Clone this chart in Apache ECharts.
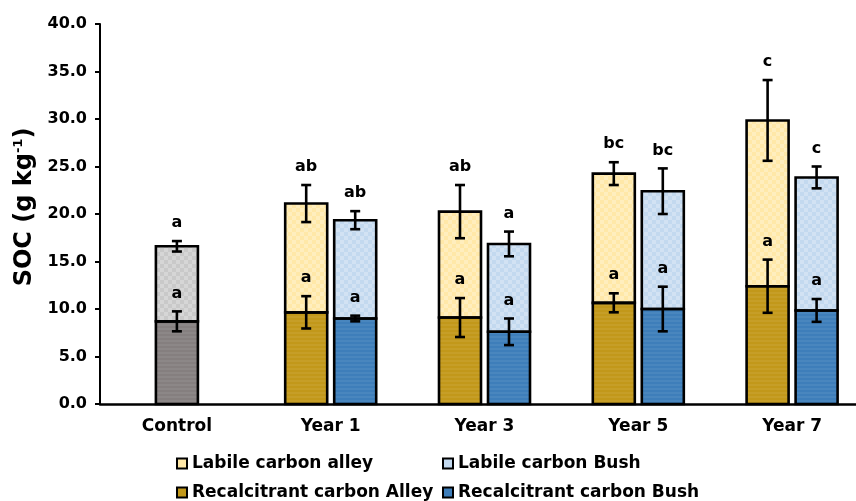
<!DOCTYPE html>
<html>
<head>
<meta charset="utf-8">
<script src="https://cdn.jsdelivr.net/npm/echarts@6/dist/echarts.min.js"></script>
<style>html,body{margin:0;padding:0;background:#fff}#c{width:856px;height:501px}</style>
</head>
<body>
<div id="c"></div>
<script>
// ---- data ----
var categories = ['Control', 'Year 1', 'Year 3', 'Year 5', 'Year 7'];
var yTicks = [0, 5, 10, 15, 20, 25, 30, 35, 40];

var controlRecalc = [8.7, null, null, null, null];
var controlLabile = [7.9, null, null, null, null];
var controlRecalcErr = [1.05, null, null, null, null];
var controlTotalErr = [0.55, null, null, null, null];
var controlTopLetters = ['a', '', '', '', ''];
var controlInnerLetters = ['a', '', '', '', ''];

var recalcAlley = [null, 9.65, 9.1, 10.65, 12.4];
var labileAlley = [null, 11.45, 11.15, 13.6, 17.45];
var recalcAlleyErr = [null, 1.7, 2.05, 1.0, 2.8];
var totalAlleyErr = [null, 1.95, 2.8, 1.2, 4.25];
var alleyTopLetters = ['', 'ab', 'ab', 'bc', 'c'];
var alleyInnerLetters = ['', 'a', 'a', 'a', 'a'];

var recalcBush = [null, 9.0, 7.6, 10.0, 9.85];
var labileBush = [null, 10.35, 9.25, 12.4, 14.0];
var recalcBushErr = [null, 0.3, 1.4, 2.35, 1.2];
var totalBushErr = [null, 0.95, 1.3, 2.4, 1.15];
var bushTopLetters = ['', 'ab', 'a', 'bc', 'c'];
var bushInnerLetters = ['', 'a', 'a', 'a', 'a'];

// ---- style ----
var FONT = 'DejaVu Sans';
var BAR_W = 42, BAR_GAP_PX = 7;
var OFF = (BAR_W + BAR_GAP_PX) / 2;
var LINE_W = 2.6;

var lightDecal = {symbol: 'rect', symbolSize: 1, color: 'rgba(255,255,255,0.25)',
  dashArrayX: [[4, 4], [0, 4, 4, 0]], dashArrayY: [4, 0]};
var darkDecal = {symbol: 'rect', symbolSize: 1, color: 'rgba(255,255,255,0.06)',
  dashArrayX: [1, 0], dashArrayY: [2, 2]};

function barStyle(color, decal) {
  return {color: color, borderWidth: 0, decal: decal};
}

// outline of each bar segment + error bar + significance letter
function errSeries(xAxisIndex, offset, base, seg, err, letters) {
  var data = [];
  for (var i = 0; i < categories.length; i++) {
    if (seg[i] == null) continue;
    var b = base ? base[i] : 0;
    data.push([i, b + seg[i], err[i], b, letters[i]]);
  }
  return {
    type: 'custom', xAxisIndex: xAxisIndex, yAxisIndex: 0, z: 10, silent: true,
    data: data,
    encode: {x: 0, y: 1},
    renderItem: function (params, api) {
      var idx = api.value(0), c = api.value(1), e = api.value(2), b = api.value(3);
      var letter = data[params.dataIndex][4];
      var x = api.coord([idx, c])[0] + offset;
      var yc = api.coord([idx, c])[1];
      var y0 = api.coord([idx, b])[1];
      var yt = api.coord([idx, c + e])[1];
      var yb = api.coord([idx, c - e])[1];
      var st = {stroke: '#000', lineWidth: LINE_W};
      var cap = 5;
      return {type: 'group', children: [
        {type: 'rect', shape: {x: x - BAR_W / 2, y: yc, width: BAR_W, height: y0 - yc},
          style: {fill: null, stroke: '#000', lineWidth: LINE_W}},
        {type: 'line', shape: {x1: x, y1: yt, x2: x, y2: yb}, style: st},
        {type: 'line', shape: {x1: x - cap, y1: yt, x2: x + cap, y2: yt}, style: st},
        {type: 'line', shape: {x1: x - cap, y1: yb, x2: x + cap, y2: yb}, style: st},
        {type: 'text', x: x, y: yt - 18, style: {text: letter, fill: '#000',
          font: 'bold 16px "' + FONT + '"', align: 'center', verticalAlign: 'middle'}}
      ]};
    }
  };
}

var legendText = {fontFamily: FONT, fontWeight: 'bold', fontSize: 17, color: '#000'};
function legend(name, left, top) {
  return {data: [name], left: left, top: top, padding: 0, itemWidth: 10, itemHeight: 10,
    icon: 'rect', itemStyle: {borderColor: '#000', borderWidth: 2, decal: 'none'},
    textStyle: legendText, selectedMode: false};
}

var option = {
  animation: false,
  backgroundColor: '#fff',
  grid: {left: 100, width: 769, top: 24, bottom: 97, containLabel: false, outerBoundsMode: 'none'},
  legend: [
    legend('Labile carbon alley', 176, 455),
    legend('Labile carbon Bush', 442, 455),
    legend('Recalcitrant carbon Alley', 176, 484),
    legend('Recalcitrant carbon Bush', 442, 484)
  ],
  xAxis: [
    {type: 'category', data: categories, axisTick: {show: false},
      axisLine: {lineStyle: {color: '#000', width: 2.5}},
      axisLabel: {margin: 14, color: '#000', fontFamily: FONT, fontWeight: 'bold', fontSize: 17}},
    {type: 'category', data: categories, show: false}
  ],
  yAxis: [{
    type: 'value', min: yTicks[0], max: yTicks[yTicks.length - 1], interval: 5,
    splitLine: {show: false},
    axisLine: {show: true, lineStyle: {color: '#000', width: 2}},
    axisTick: {show: true, length: 5, lineStyle: {color: '#000', width: 2}},
    axisLabel: {margin: 13, color: '#000', fontFamily: FONT, fontWeight: 'bold', fontSize: 16,
      formatter: function (v) { return v.toFixed(1); }},
    name: 'SOC (g kg{sup|-1})', nameLocation: 'middle', nameGap: 63, nameRotate: 90,
    nameTextStyle: {color: '#000', fontFamily: FONT, fontWeight: 'bold', fontSize: 24,
      padding: [0, 0, 0, 14],
      rich: {sup: {fontFamily: FONT, fontWeight: 'bold', fontSize: 13, verticalAlign: 'top', padding: [0, 0, 10, 0], color: '#000'}}}
  }],
  series: [
    {name: 'Recalcitrant carbon Alley', type: 'bar', stack: 'alley', xAxisIndex: 0, barWidth: BAR_W,
      barGap: (BAR_GAP_PX / BAR_W * 100) + '%', data: recalcAlley, itemStyle: barStyle('#C2981A', darkDecal)},
    {name: 'Labile carbon alley', type: 'bar', stack: 'alley', xAxisIndex: 0, barWidth: BAR_W,
      data: labileAlley, itemStyle: barStyle('#FFE8A8', lightDecal)},
    {name: 'Recalcitrant carbon Bush', type: 'bar', stack: 'bush', xAxisIndex: 0, barWidth: BAR_W,
      data: recalcBush, itemStyle: barStyle('#3E7EBA', darkDecal)},
    {name: 'Labile carbon Bush', type: 'bar', stack: 'bush', xAxisIndex: 0, barWidth: BAR_W,
      data: labileBush, itemStyle: barStyle('#C3D9EF', lightDecal)},
    {name: 'Control recalcitrant', type: 'bar', stack: 'ctrl', xAxisIndex: 1, barWidth: BAR_W,
      data: controlRecalc, itemStyle: barStyle('#857F7F', darkDecal)},
    {name: 'Control labile', type: 'bar', stack: 'ctrl', xAxisIndex: 1, barWidth: BAR_W,
      data: controlLabile, itemStyle: barStyle('#C9C9C9', lightDecal)},
    errSeries(1, 0, null, controlRecalc, controlRecalcErr, controlInnerLetters),
    errSeries(1, 0, controlRecalc, controlLabile, controlTotalErr, controlTopLetters),
    errSeries(0, -OFF, null, recalcAlley, recalcAlleyErr, alleyInnerLetters),
    errSeries(0, -OFF, recalcAlley, labileAlley, totalAlleyErr, alleyTopLetters),
    errSeries(0, OFF, null, recalcBush, recalcBushErr, bushInnerLetters),
    errSeries(0, OFF, recalcBush, labileBush, totalBushErr, bushTopLetters)
  ]
};

var chart = echarts.init(document.getElementById('c'), null, {renderer: 'canvas'});
chart.setOption(option);
</script>
</body>
</html>
